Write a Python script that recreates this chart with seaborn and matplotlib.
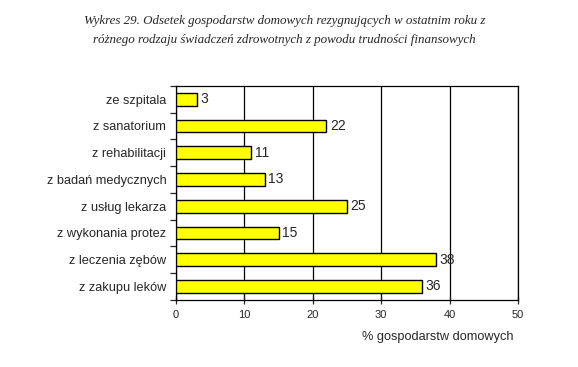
import matplotlib
matplotlib.use("Agg")
import matplotlib.pyplot as plt
import seaborn as sns
import pandas as pd

categories = ["ze szpitala", "z sanatorium", "z rehabilitacji", "z badań medycznych",
              "z usług lekarza", "z wykonania protez", "z leczenia zębów", "z zakupu leków"]
values = [3, 22, 11, 13, 25, 15, 38, 36]
xticks = [0, 10, 20, 30, 40, 50]
title = ("Wykres 29. Odsetek gospodarstw domowych rezygnujących w ostatnim roku z\n"
         "różnego rodzaju świadczeń zdrowotnych z powodu trudności finansowych")
xlabel = "% gospodarstw domowych"

df = pd.DataFrame({"cat": categories, "val": values})

sns.set_style("white")
plt.rcParams['font.family'] = ['Liberation Sans', 'DejaVu Sans']

fig = plt.figure(figsize=(5.78, 3.67), dpi=100)
ax = fig.add_axes([0.3045, 0.183, 0.5915, 0.583])
sns.barplot(data=df, y="cat", x="val", orient="h", color="#FFFF00",
            edgecolor="black", linewidth=1.0, width=0.48, saturation=1, ax=ax, zorder=3)

ax.set_xlim(0, 50)
ax.set_ylim(len(categories) - 0.5, -0.5)
ax.set_xticks(xticks)
ax.set_xticklabels([str(t) for t in xticks], fontsize=8)
ax.xaxis.grid(True, color="black", linewidth=0.9, zorder=0)
ax.set_axisbelow(True)
ax.tick_params(axis="x", direction="inout", length=6, width=0.9, pad=4, bottom=True)
ax.tick_params(axis="y", which="major", length=0, labelsize=9.2, pad=7)
ax.set_yticks(range(len(categories)))
ax.set_yticklabels(categories)
ax.set_yticks([i + 0.5 for i in range(-1, len(categories))], minor=True)
ax.tick_params(axis="y", which="minor", direction="out", length=4, width=0.9, left=True)
for s in ax.spines.values():
    s.set_color("black")
    s.set_linewidth(0.9)
ax.set_ylabel("")
ax.set_xlabel("")

for i, v in enumerate(values):
    ax.annotate(str(v), xy=(v, i), xytext=(2.5, 0), textcoords="offset points",
                va="center", ha="left", fontsize=10)

fig.text(0.888, 0.083, xlabel, ha="right", va="center", fontsize=9.2)
fig.text(0.492, 0.917, title, ha="center", va="center", fontsize=9.4,
         family=["Liberation Serif"], style="italic", linespacing=1.75)

fig.savefig("out.png", dpi=100)
